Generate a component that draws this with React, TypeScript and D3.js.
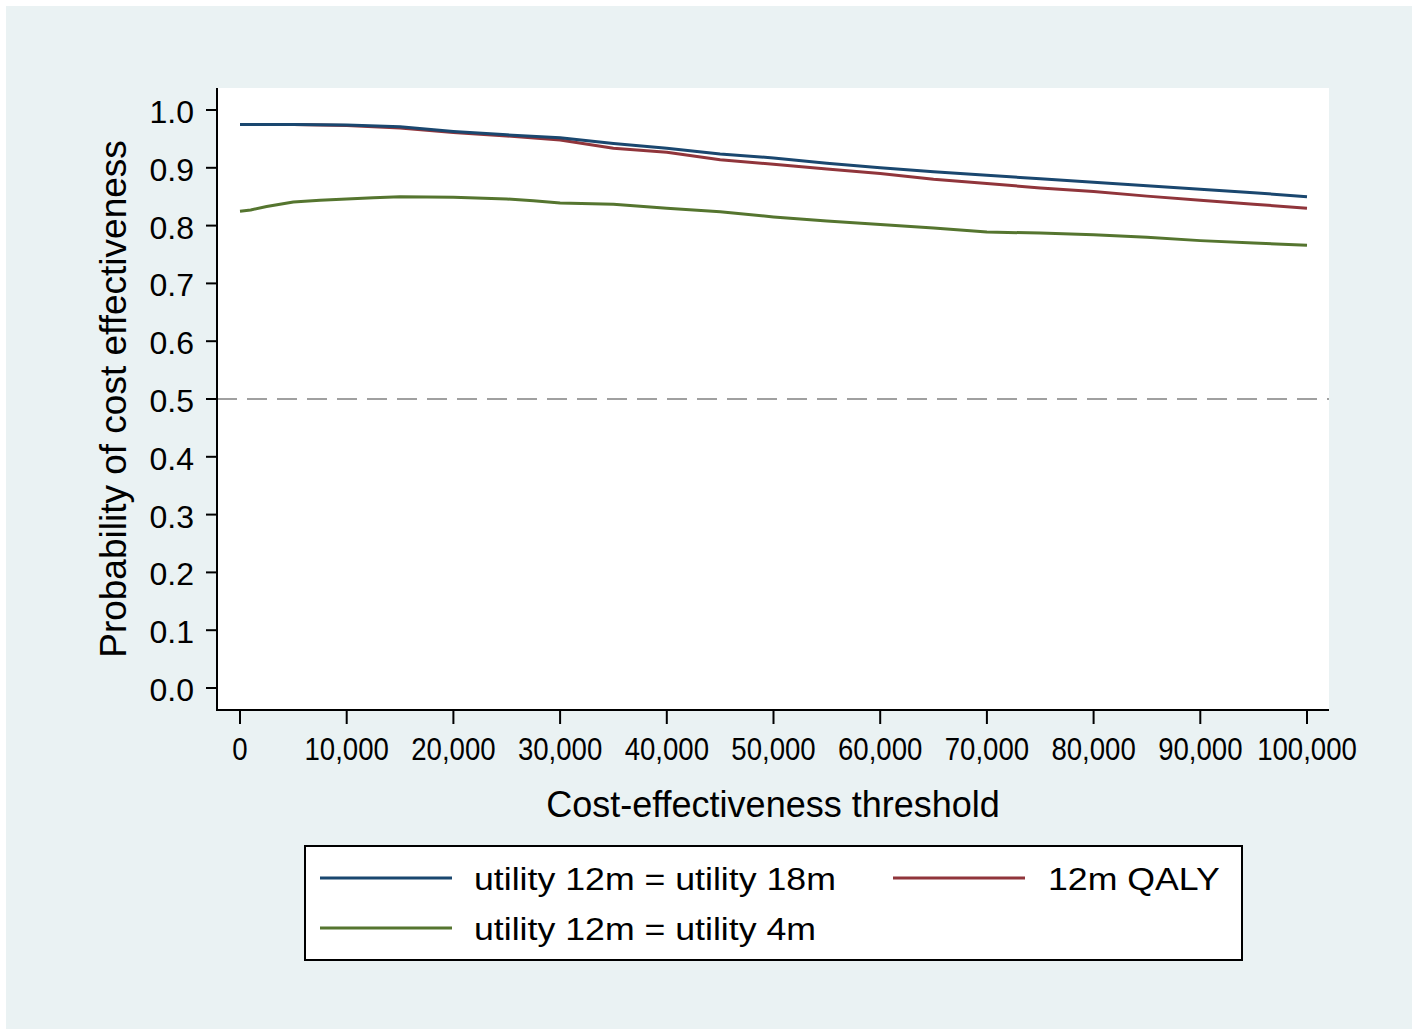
import React from "react";
import * as d3 from "d3";

const thresholds = [0, 5000, 10000, 15000, 20000, 25000, 30000, 35000, 40000, 45000, 50000, 55000, 60000, 65000, 70000, 75000, 80000, 85000, 90000, 95000, 100000];
const utility18m = [0.975, 0.975, 0.974, 0.971, 0.963, 0.957, 0.952, 0.942, 0.934, 0.924, 0.917, 0.908, 0.900, 0.893, 0.887, 0.881, 0.875, 0.869, 0.863, 0.857, 0.850];
const qaly12m = [0.975, 0.975, 0.973, 0.969, 0.961, 0.955, 0.948, 0.934, 0.927, 0.914, 0.906, 0.898, 0.890, 0.880, 0.873, 0.865, 0.859, 0.851, 0.844, 0.837, 0.830];

const thresholdsGreen = [0, 1000, 2500, 5000, 7500, 10000, 12500, 15000, 20000, 25000, 27500, 30000, 35000, 40000, 45000, 50000, 55000, 60000, 65000, 70000, 75000, 80000, 85000, 90000, 95000, 100000];
const utility4m = [0.825, 0.827, 0.833, 0.841, 0.844, 0.846, 0.848, 0.850, 0.849, 0.846, 0.843, 0.839, 0.837, 0.830, 0.824, 0.815, 0.808, 0.802, 0.796, 0.789, 0.787, 0.784, 0.780, 0.774, 0.770, 0.766];

const yTicks = [0, 0.1, 0.2, 0.3, 0.4, 0.5, 0.6, 0.7, 0.8, 0.9, 1.0];
const xTicks = [0, 10000, 20000, 30000, 40000, 50000, 60000, 70000, 80000, 90000, 100000];

const legendLabels = ["utility 12m = utility 18m", "12m QALY", "utility 12m = utility 4m"];
const colors = { navy: "#1A476F", maroon: "#90353B", green: "#55752F" };

const W = 1418;
const H = 1035;
const plot = { left: 217, right: 1329, top: 88, bottom: 710 };
const FONT = "Arial, 'Liberation Sans', Helvetica, sans-serif";

export default function App() {
  const x = d3.scaleLinear().domain([0, 100000]).range([240, 1307]);
  const y = d3.scaleLinear().domain([0, 1]).range([688, 110]);
  const line = d3
    .line<[number, number]>()
    .x((d) => x(d[0]))
    .y((d) => y(d[1]));

  const series = [
    { xs: thresholdsGreen, ys: utility4m, color: colors.green },
    { xs: thresholds, ys: qaly12m, color: colors.maroon },
    { xs: thresholds, ys: utility18m, color: colors.navy },
  ];

  const fmt = d3.format(",");

  return (
    <svg
      width={W}
      height={H}
      style={{ position: "absolute", left: 0, top: 0 }}
      fontFamily={FONT}
    >
      <rect x={0} y={0} width={W} height={H} fill="#ffffff" />
      <rect x={6} y={6} width={1406} height={1023} fill="#EAF2F3" />
      <rect
        x={plot.left}
        y={plot.top}
        width={plot.right - plot.left}
        height={plot.bottom - plot.top}
        fill="#ffffff"
      />

      {/* reference line at 0.5 */}
      <line
        x1={plot.left}
        x2={plot.right}
        y1={y(0.5)}
        y2={y(0.5)}
        stroke="#A0A0A0"
        strokeWidth={2}
        strokeDasharray="20,10"
      />

      {series.map((s, i) => (
        <path
          key={i}
          d={line(s.xs.map((v, j) => [v, s.ys[j]] as [number, number])) || ""}
          fill="none"
          stroke={s.color}
          strokeWidth={3}
          strokeLinejoin="round"
        />
      ))}

      {/* axes */}
      <line x1={plot.left} x2={plot.left} y1={plot.top} y2={plot.bottom + 1} stroke="#000" strokeWidth={2} />
      <line x1={plot.left} x2={plot.right} y1={plot.bottom} y2={plot.bottom} stroke="#000" strokeWidth={2} />

      {yTicks.map((t) => (
        <g key={t}>
          <line x1={206} x2={plot.left} y1={y(t)} y2={y(t)} stroke="#000" strokeWidth={2} />
          <text x={194} y={y(t) + 13} textAnchor="end" fontSize={32} fill="#000">
            {t.toFixed(1)}
          </text>
        </g>
      ))}

      {xTicks.map((t) => (
        <g key={t}>
          <line x1={x(t)} x2={x(t)} y1={plot.bottom} y2={724} stroke="#000" strokeWidth={2} />
          <text
            transform={`translate(${x(t)},760) scale(0.89,1)`}
            textAnchor="middle"
            fontSize={31}
            fill="#000"
          >
            {fmt(t)}
          </text>
        </g>
      ))}

      <text x={(plot.left + plot.right) / 2} y={817} textAnchor="middle" fontSize={36} fill="#000">
        Cost-effectiveness threshold
      </text>
      <text
        transform={`translate(126,${(plot.top + plot.bottom) / 2}) rotate(-90)`}
        textAnchor="middle"
        fontSize={37}
        fill="#000"
      >
        Probability of cost effectiveness
      </text>

      {/* legend */}
      <rect x={305} y={846} width={937} height={114} fill="#ffffff" stroke="#000" strokeWidth={2} />
      <line x1={320} x2={452} y1={878} y2={878} stroke={colors.navy} strokeWidth={3} />
      <text transform="translate(474,890) scale(1.17,1)" fontSize={30.5} fill="#000">
        {legendLabels[0]}
      </text>
      <line x1={893} x2={1025} y1={878} y2={878} stroke={colors.maroon} strokeWidth={3} />
      <text transform="translate(1048,890) scale(1.17,1)" fontSize={30.5} fill="#000">
        {legendLabels[1]}
      </text>
      <line x1={320} x2={452} y1={928} y2={928} stroke={colors.green} strokeWidth={3} />
      <text transform="translate(474,940) scale(1.17,1)" fontSize={30.5} fill="#000">
        {legendLabels[2]}
      </text>
    </svg>
  );
}
